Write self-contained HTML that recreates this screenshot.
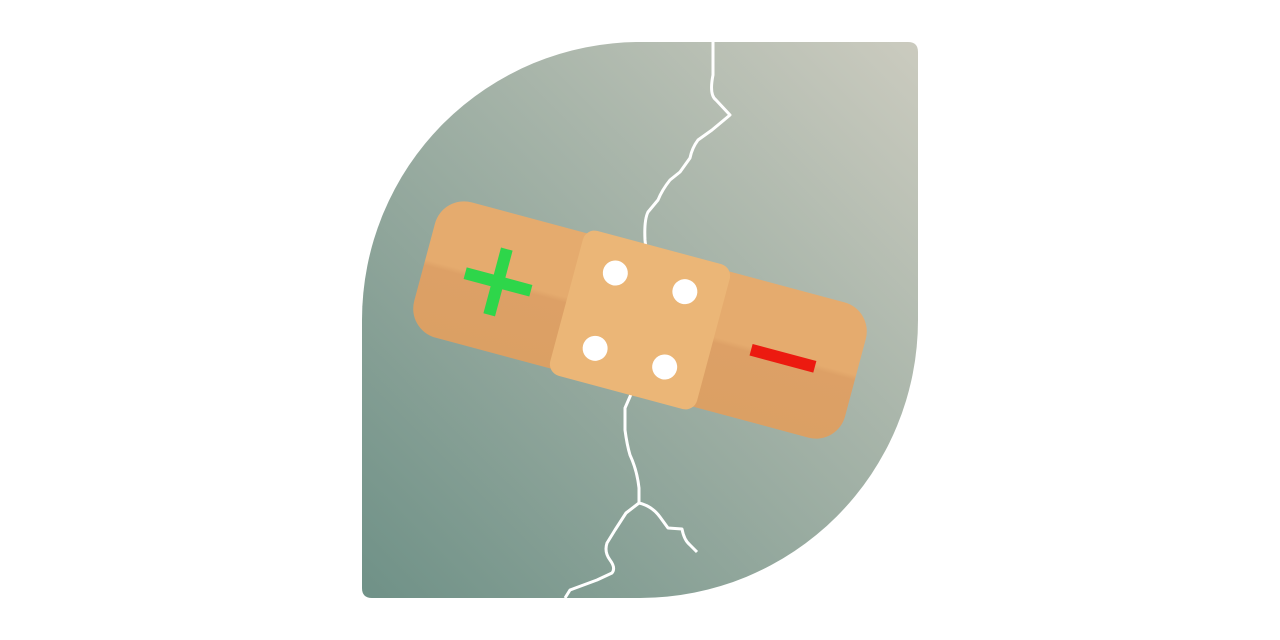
<!DOCTYPE html>
<html><head><meta charset="utf-8"><style>
html,body{margin:0;padding:0;background:#fff;width:1280px;height:640px;overflow:hidden}
</style></head><body>
<svg width="1280" height="640" viewBox="0 0 1280 640">
<defs>
<linearGradient id="bg" x1="918" y1="42" x2="362" y2="598" gradientUnits="userSpaceOnUse">
<stop offset="0" stop-color="#cbcbbf"/><stop offset="1" stop-color="#6f9187"/>
</linearGradient>
<linearGradient id="pad" x1="0" y1="0" x2="0" y2="1">
<stop offset="0" stop-color="#e5ab6e"/><stop offset="0.48" stop-color="#e5ab6e"/><stop offset="0.52" stop-color="#dda066"/><stop offset="1" stop-color="#dba064"/>
</linearGradient>
</defs>
<path d="M640,42 L908,42 Q918,42 918,52 L918,320 A278,278 0 0 1 640,598 L372,598 Q362,598 362,588 L362,320 A278,278 0 0 1 640,42 Z" fill="url(#bg)"/>
<path fill="none" stroke="#fff" stroke-width="3" stroke-linejoin="round" d="M713,42 L713,75 Q709,95 716,100 L730,115 L712,130 L698,140 Q692,148 690,158 L680,172 L670,180 Q662,190 658,200 L648,212 Q644,220 645,240 L646,250 M632,392 L625,408 L625,430 Q627,445 630,455 Q637,470 639,488 L639,503 L626,513 L615,530 L607,543 Q604,552 610,560 Q616,568 612,573 L597,580 L570,590 L565,598 M639,503 Q652,506 660,517 L668,528 L682,529 Q684,540 690,545 L697,552"/>
<g transform="translate(640,320) rotate(15)">
<rect x="-223" y="-70" width="446" height="140" rx="30" fill="url(#pad)"/>
<rect x="-76" y="-75" width="152" height="150" rx="12" fill="#ebb677"/>
<circle cx="-36" cy="-39" r="12.5" fill="#fff"/>
<circle cx="36" cy="-39" r="12.5" fill="#fff"/>
<circle cx="-36" cy="39" r="12.5" fill="#fff"/>
<circle cx="36" cy="39" r="12.5" fill="#fff"/>
<g fill="#2ed64a">
<rect x="-181" y="-6" width="68" height="12"/>
<rect x="-153" y="-34" width="12" height="68"/>
</g>
<rect x="115" y="-6" width="66" height="12" fill="#ec1a10"/>
</g>
</svg>
</body></html>
